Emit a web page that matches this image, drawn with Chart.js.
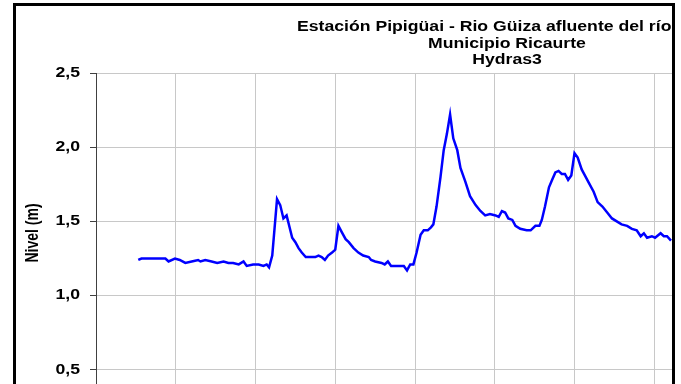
<!DOCTYPE html>
<html lang="es">
<head>
<meta charset="utf-8">
<title>Estación Pipigüai - Nivel</title>
<script src="https://cdn.jsdelivr.net/npm/chart.js@4/dist/chart.umd.min.js"></script>
<style>
  html, body {
    margin: 0;
    padding: 0;
    width: 681px;
    height: 384px;
    overflow: hidden;
    background: #ffffff;
  }
  /* marco negro del gráfico */
  #marco {
    position: absolute;
    left: 13px;
    top: 3px;
    width: 662px;
    height: 420px;
    border: 3px solid #000000;
    box-sizing: border-box;
    overflow: hidden;
  }
  #grafico {
    position: absolute;
    left: -16px;
    top: -6px;
  }
</style>
</head>
<body>
<div id="marco">
  <canvas id="grafico" width="740" height="450"></canvas>
</div>
<script>
// Serie del sensor Hydras3 (día, nivel en m)
const dias = [
  5.3, 5.7, 8.2, 8.7, 9.1, 9.9, 10.5, 11.2, 12.0, 12.8, 13.1, 13.7, 14.5, 15.2, 16.0,
  16.6, 17.2, 17.9, 18.5, 18.9, 19.7, 20.4, 21.0, 21.4, 21.7, 22.1, 22.7, 23.1, 23.5,
  23.9, 24.6, 25.0, 25.4, 25.8, 26.3, 26.9, 27.5, 27.9, 28.3, 28.7, 29.1, 29.6, 30.0,
  30.4, 30.8, 31.3, 31.7, 32.3, 32.9, 33.5, 34.2, 34.5, 35.0, 35.8, 36.2, 36.6, 37.0,
  37.7, 38.1, 38.6, 39.0, 39.4, 39.8, 40.2, 40.7, 41.1, 41.6, 42.0, 42.3, 42.7, 43.2,
  43.6, 44.0, 44.4, 44.8, 45.3, 45.7, 46.3, 46.9, 47.6, 48.2, 48.8, 49.4, 50.1, 50.5,
  50.9, 51.3, 51.7, 52.2, 52.6, 53.2, 54.0, 54.5, 55.1, 55.6, 55.9, 56.3, 56.8, 57.2,
  57.6, 58.0, 58.4, 58.8, 59.2, 59.6, 60.0, 60.4, 60.9, 61.3, 61.8, 62.4, 62.9, 63.5,
  64.1, 64.7, 65.3, 65.9, 66.6, 67.2, 67.8, 68.3, 68.7, 69.1, 69.7, 70.1, 70.8, 71.2,
  71.6, 72.1
];
const nivel = [
  1.24, 1.25, 1.25, 1.25, 1.23, 1.25, 1.24, 1.22, 1.23, 1.24, 1.23, 1.24, 1.23, 1.22, 1.23,
  1.22, 1.22, 1.21, 1.23, 1.20, 1.21, 1.21, 1.20, 1.21, 1.19, 1.27, 1.65, 1.61, 1.52,
  1.54, 1.39, 1.36, 1.32, 1.29, 1.26, 1.26, 1.26, 1.27, 1.26, 1.24, 1.27, 1.29, 1.31,
  1.47, 1.43, 1.38, 1.36, 1.32, 1.29, 1.27, 1.26, 1.24, 1.23, 1.22, 1.21, 1.23, 1.20,
  1.20, 1.20, 1.20, 1.17, 1.21, 1.21, 1.29, 1.41, 1.44, 1.44, 1.46, 1.48, 1.60, 1.80,
  1.98, 2.09, 2.22, 2.06, 1.98, 1.86, 1.77, 1.67, 1.61, 1.57, 1.54, 1.55, 1.54, 1.53,
  1.57, 1.56, 1.52, 1.51, 1.47, 1.45, 1.44, 1.44, 1.47, 1.47, 1.51, 1.60, 1.73, 1.78,
  1.83, 1.84, 1.82, 1.82, 1.78, 1.81, 1.96, 1.93, 1.85, 1.81, 1.76, 1.70, 1.63, 1.60,
  1.56, 1.52, 1.50, 1.48, 1.47, 1.45, 1.44, 1.40, 1.42, 1.39, 1.40, 1.39, 1.42, 1.40,
  1.40, 1.37
];
const titulo = [
  'Estación Pipigüai - Rio Güiza afluente del río',
  'Municipio Ricaurte',
  'Hydras3'
];
const tituloEje = 'Nivel (m)';

const fuente = 'bold 14px "Liberation Sans", Arial, sans-serif';
const ancho = 1.26; // las letras van algo ensanchadas

const etiqueta = (v) => v.toFixed(1).replace('.', ',');

// títulos y etiquetas del eje Y, dibujados con letra ensanchada
const textos = {
  id: 'textos',
  afterDraw(chart) {
    const ctx = chart.ctx;
    const ejeY = chart.scales.y;
    ctx.save();
    ctx.fillStyle = '#000000';
    ctx.font = fuente;

    ctx.save();
    ctx.scale(ancho, 1);
    ctx.textBaseline = 'alphabetic';
    ctx.textAlign = 'left';
    ctx.fillText(titulo[0], 297 / ancho, 31);
    ctx.textAlign = 'center';
    ctx.fillText(titulo[1], 507 / ancho, 47.5);
    ctx.fillText(titulo[2], 507 / ancho, 64);

    ctx.textAlign = 'right';
    ctx.textBaseline = 'middle';
    ejeY.ticks.forEach((t) => {
      ctx.fillText(etiqueta(t.value), 80 / ancho, ejeY.getPixelForValue(t.value));
    });
    ctx.restore();

    ctx.translate(33, 233);
    ctx.scale(ancho, 1);
    ctx.rotate(-Math.PI / 2);
    ctx.textAlign = 'center';
    ctx.textBaseline = 'middle';
    ctx.fillText(tituloEje, 0, 0);
    ctx.restore();
  }
};

const ctx = document.getElementById('grafico').getContext('2d');
new Chart(ctx, {
  type: 'line',
  data: {
    datasets: [{
      label: 'Nivel',
      data: dias.map((d, i) => ({ x: d, y: nivel[i] })),
      borderColor: '#0000ff',
      borderWidth: 2.5,
      pointRadius: 0,
      tension: 0,
      fill: false
    }]
  },
  options: {
    responsive: false,
    animation: false,
    layout: {
      padding: { left: 14, top: 73, right: 6, bottom: 6 }
    },
    plugins: {
      legend: { display: false },
      tooltip: { enabled: false }
    },
    scales: {
      x: {
        type: 'linear',
        min: 0,
        max: 80,
        afterFit(scale) {
          scale.height = 0;
        },
        ticks: { display: false, stepSize: 10 },
        grid: { color: '#c8c8c8', lineWidth: 1, drawTicks: false },
        border: { display: false }
      },
      y: {
        min: 0,
        max: 2.5,
        afterFit(scale) {
          scale.width = 82;
        },
        ticks: { display: false, stepSize: 0.5 },
        grid: { color: '#c8c8c8', lineWidth: 1, tickLength: 6, tickColor: '#404040' },
        border: { display: true, color: '#404040', width: 1 }
      }
    }
  },
  plugins: [textos]
});
</script>
</body>
</html>
